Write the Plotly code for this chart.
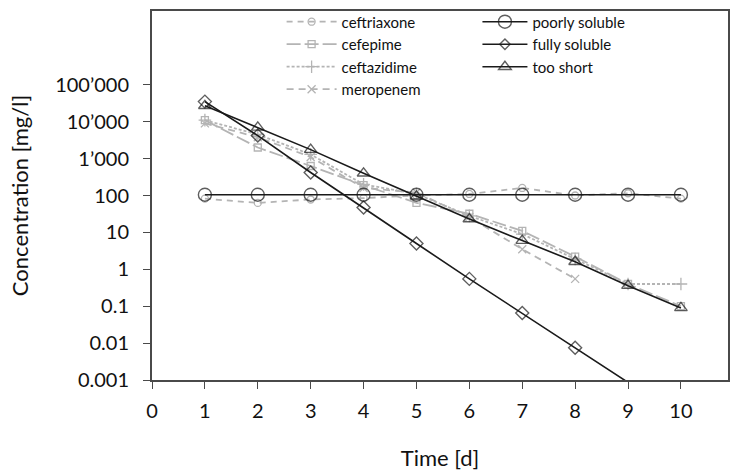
import plotly.graph_objects as go

days = [1, 2, 3, 4, 5, 6, 7, 8, 9, 10]

ceftriaxone = [82, 63, 78, 85, 100, 110, 160, 100, 115, 82]
cefepime = [11000, 2000, 630, 190, 63, 32, 11, 2.2, 0.4, 0.1]
ceftazidime = [11000, 4500, 1300, 200, 110, 28, 9, 1.9, 0.4, 0.4]
meropenem = [9000, 3800, 1100, 160, 120, 26, 3.5, 0.55]
meropenem_days = [1, 2, 3, 4, 5, 6, 7, 8]

poorly_soluble = [105, 105, 105, 105, 105, 105, 105, 105, 105, 105]
fully_soluble = [35000, 4200, 420, 47, 5, 0.55, 0.065, 0.0075, 0.00088, 0.0001]
too_short = [27000, 7000, 1750, 400, 95, 23, 6, 1.6, 0.36, 0.09]

y_tickvals = [0.001, 0.01, 0.1, 1, 10, 100, 1000, 10000, 100000]
y_ticktext = ["0.001", "0.01", "0.1", "1", "10", "100", "1’000", "10’000", "100’000"]
x_tickvals = [0, 1, 2, 3, 4, 5, 6, 7, 8, 9, 10]

GREY = "#b4b4b4"
BLACK = "#1a1a1a"
FONT = "Lato"

fig = go.Figure()

def grey_trace(name, x, y, symbol, dash, size=7):
    fig.add_trace(go.Scatter(
        x=x, y=y, name=name, mode="lines+markers",
        line=dict(color=GREY, width=1.8, dash=dash),
        marker=dict(symbol=symbol, size=size, color=GREY,
                    line=dict(color=GREY, width=1.3)),
        legend="legend",
    ))

grey_trace("ceftriaxone", days, ceftriaxone, "circle-open", "6px,5px")
grey_trace("cefepime", days, cefepime, "square-open", "14px,4px")
grey_trace("ceftazidime", days, ceftazidime, "cross-thin-open", "3px,2px", size=9)
grey_trace("meropenem", meropenem_days, meropenem, "x-thin-open", "7px,5px", size=8)

def black_trace(name, y, symbol, size):
    sizes = [size if v >= 0.001 else 0 for v in y]
    fig.add_trace(go.Scatter(
        x=days, y=y, name=name, mode="lines+markers",
        line=dict(color=BLACK, width=1.6),
        marker=dict(symbol=symbol, size=sizes, color=BLACK,
                    line=dict(color=BLACK, width=1.4)),
        legend="legend2",
    ))

black_trace("poorly soluble", poorly_soluble, "circle-open", 13)
black_trace("fully soluble", fully_soluble, "diamond-open", 10)
black_trace("too short", too_short, "triangle-up-open", 11)

axis_common = dict(
    showline=True, linecolor="#4a4a4a", linewidth=2, mirror=True,
    ticks="outside", ticklen=7, tickwidth=1.2, tickcolor="#4a4a4a",
    showgrid=False, zeroline=False, automargin=False,
    tickfont=dict(family=FONT, size=20, color="#111"),
)

fig.update_layout(
    width=733, height=476,
    margin=dict(l=152, r=5, t=5, b=96),
    paper_bgcolor="white", plot_bgcolor="white",
    font=dict(family=FONT, color="#111"),
    xaxis=dict(
        range=[0, 10.89], tickvals=x_tickvals, ticklabelstandoff=5,
        title=dict(text="Time [d]", font=dict(family=FONT, size=22), standoff=30),
        **axis_common,
    ),
    yaxis=dict(
        type="log", range=[-3, 7], tickvals=y_tickvals, ticktext=y_ticktext,
        ticklabelstandoff=10,
        title=dict(text="Concentration [mg/l]", font=dict(family=FONT, size=22), standoff=20),
        **axis_common,
    ),
    legend=dict(
        x=0.225, y=1.015, xanchor="left", yanchor="top",
        bgcolor="rgba(0,0,0,0)", font=dict(family=FONT, size=15, color="#111"),
        tracegroupgap=0, itemwidth=50,
    ),
    legend2=dict(
        x=0.565, y=1.015, xanchor="left", yanchor="top",
        bgcolor="rgba(0,0,0,0)", font=dict(family=FONT, size=15, color="#111"),
        tracegroupgap=0, itemwidth=45,
    ),
    showlegend=True,
)

fig.write_html("out.html", config={"displayModeBar": False},
               post_script="document.body.style.margin='0';")
